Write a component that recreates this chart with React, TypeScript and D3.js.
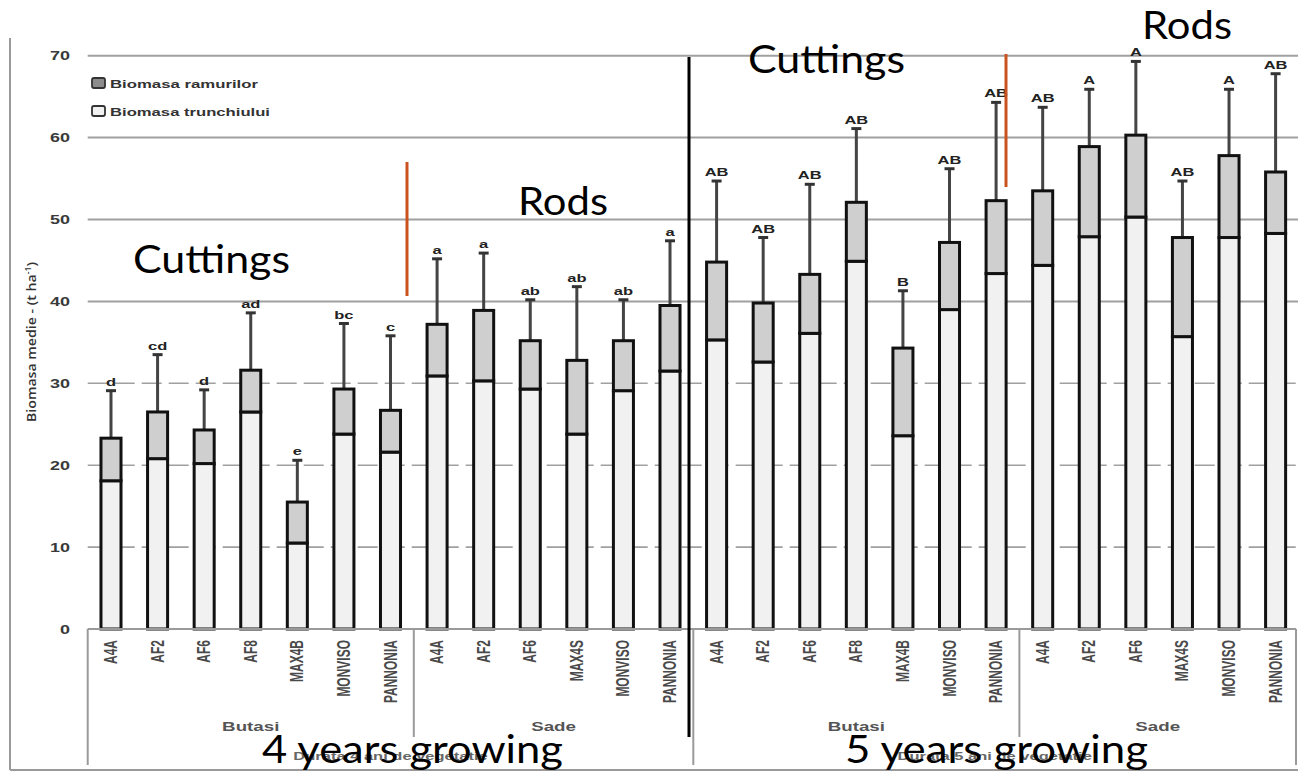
import React from "react";
import * as d3 from "d3";

// Cultivars in plotting order: 4-year stand (cuttings, rods), then 5-year stand (cuttings, rods)
const cultivars = [
  "A4A", "AF2", "AF6", "AF8", "MAX4B", "MONVISO", "PANNONIA",
  "A4A", "AF2", "AF6", "MAX4S", "MONVISO", "PANNONIA",
  "A4A", "AF2", "AF6", "AF8", "MAX4B", "MONVISO", "PANNONIA",
  "A4A", "AF2", "AF6", "MAX4S", "MONVISO", "PANNONIA",
];

// Stem biomass (t/ha) – lower segment
const trunkBiomass = [
  18.1, 20.8, 20.2, 26.5, 10.5, 23.8, 21.6,
  30.9, 30.3, 29.3, 23.8, 29.1, 31.5,
  35.3, 32.6, 36.1, 44.9, 23.6, 39.0, 43.4,
  44.4, 47.9, 50.3, 35.7, 47.8, 48.3,
];

// Branch biomass (t/ha) – upper segment
const branchBiomass = [
  5.2, 5.7, 4.1, 5.1, 5.0, 5.5, 5.1,
  6.3, 8.6, 5.9, 9.0, 6.1, 8.0,
  9.5, 7.2, 7.2, 7.2, 10.7, 8.2, 8.9,
  9.1, 11.0, 10.0, 12.1, 10.0, 7.5,
];

// Upper error (standard deviation) on total biomass
const errorUp = [
  5.8, 7.0, 4.9, 7.0, 5.1, 8.0, 9.1,
  8.0, 7.0, 5.0, 9.0, 5.0, 7.9,
  9.9, 8.0, 11.0, 9.0, 7.0, 9.0, 12.0,
  10.2, 7.0, 9.0, 6.9, 8.1, 12.0,
];

// Significance letters
const signifLetters = [
  "d", "cd", "d", "ad", "e", "bc", "c",
  "a", "a", "ab", "ab", "ab", "a",
  "AB", "AB", "AB", "AB", "B", "AB", "AB",
  "AB", "A", "A", "AB", "A", "AB",
];

const materialLabels = ["Butasi", "Sade", "Butasi", "Sade"];
const materialSizes = [7, 6, 7, 6];
const durationLabels = ["Durata 4 ani de vegetatie", "Durata 5 ani de vegetatie"];
const durationSizes = [13, 13];

const yTicks = [0, 10, 20, 30, 40, 50, 60, 70];
const legendLabels = ["Biomasa ramurilor", "Biomasa trunchiului"];

const W = 1298;
const H = 773;
const SANS = "'Liberation Sans', Arial, sans-serif";
const ANNOT = "Lato, 'Open Sans', sans-serif";
const STRETCH = 1.5;

export default function App() {
  const idx = d3.range(cultivars.length);
  const x = d3
    .scaleBand<number>()
    .domain(idx)
    .range([87.7, 1298.9])
    .paddingInner(0.57)
    .paddingOuter(0.285);
  const y = d3.scaleLinear().domain([0, 70]).range([629, 55.7]);
  const step = x.step();
  const bw = x.bandwidth();
  const left = x.range()[0];
  const right = 1296;
  const y0 = y(0);

  // group boundary positions (in band units)
  const matEdges = d3.cumsum(materialSizes);
  const durEdges = d3.cumsum(durationSizes);
  const boundaryX = (k: number) =>
    k >= cultivars.length ? right : x(k)! - (step - bw) / 2;

  const stretchText = (
    tx: number,
    ty: number,
    content: React.ReactNode,
    props: Record<string, any>
  ) => (
    <text transform={`translate(${tx},${ty}) scale(${STRETCH},1)`} {...props}>
      {content}
    </text>
  );

  return (
    <svg
      width={W}
      height={H}
      style={{ position: "absolute", left: 0, top: 0, background: "#fff" }}
    >
      {/* outer frame pieces */}
      <line x1={10} x2={10} y1={38} y2={770} stroke="#9a9a9a" strokeWidth={2} />
      <line x1={10} x2={W} y1={770} y2={770} stroke="#9a9a9a" strokeWidth={2} />

      {/* gridlines */}
      {yTicks.map((t) =>
        t === 0 ? null : (
          <line
            key={t}
            x1={left}
            x2={W}
            y1={y(t)}
            y2={y(t)}
            stroke="#a0a0a0"
            strokeWidth={t >= 40 ? 2 : 1.6}
            strokeDasharray={t >= 40 ? undefined : "20 7"}
          />
        )
      )}

      {/* y tick labels */}
      {yTicks.map((t) =>
        stretchText(70, y(t) + 4.5, String(t), {
          key: "t" + t,
          textAnchor: "end",
          fontFamily: SANS,
          fontWeight: 700,
          fontSize: 12,
          fill: "#3a3a3a",
        })
      )}

      {/* y axis title */}
      <text
        transform={`translate(36,342) rotate(-90)`}
        textAnchor="middle"
        fontFamily="'Open Sans', sans-serif"
        fontWeight={600}
        fontSize={13}
        fill="#333"
        textLength={160}
        lengthAdjust="spacingAndGlyphs"
      >
        Biomasa medie - (t ha
        <tspan dy={-5} fontSize={8}>-1</tspan>
        <tspan dy={5}>)</tspan>
      </text>

      {/* stacked bars */}
      {idx.map((i) => {
        const bx = x(i)!;
        const total = trunkBiomass[i] + branchBiomass[i];
        const cx = bx + bw / 2;
        const errTop = y(total + errorUp[i]);
        return (
          <g key={i}>
            <line x1={cx} x2={cx} y1={y(total)} y2={errTop} stroke="#444" strokeWidth={3} />
            <line x1={cx - 5} x2={cx + 5} y1={errTop} y2={errTop} stroke="#333" strokeWidth={3} />
            <rect
              x={bx}
              y={y(trunkBiomass[i])}
              width={bw}
              height={y0 - y(trunkBiomass[i])}
              fill="#f1f1f1"
              stroke="#111"
              strokeWidth={3}
            />
            <rect
              x={bx}
              y={y(total)}
              width={bw}
              height={y(trunkBiomass[i]) - y(total)}
              fill="#cfcfcf"
              stroke="#111"
              strokeWidth={3}
            />
            {stretchText(cx, errTop - 5, signifLetters[i], {
              textAnchor: "middle",
              fontFamily: SANS,
              fontWeight: 700,
              fontSize: 11,
              fill: "#222",
            })}
          </g>
        );
      })}

      {/* category box */}
      <line x1={left} x2={right} y1={y0} y2={y0} stroke="#9a9a9a" strokeWidth={2} />
      {[0, ...matEdges].map((k) => {
        const isOuter = k === 0 || durEdges.includes(k);
        const bxp = boundaryX(k);
        return (
          <line
            key={"m" + k}
            x1={bxp}
            x2={bxp}
            y1={y0}
            y2={isOuter ? 765 : 737}
            stroke="#9a9a9a"
            strokeWidth={2}
          />
        );
      })}

      {/* cultivar labels */}
      {idx.map((i) => (
        <text
          key={"c" + i}
          transform={`translate(${x(i)! + bw / 2 + 6},640) scale(${STRETCH},1) rotate(-90)`}
          textAnchor="end"
          fontFamily={SANS}
          fontWeight={700}
          fontSize={12}
          fill="#4a4a4a"
        >
          {cultivars[i]}
        </text>
      ))}

      {/* material labels */}
      {materialLabels.map((lab, g) => {
        const start = g === 0 ? 0 : matEdges[g - 1];
        const end = matEdges[g];
        const cx = (boundaryX(start) + boundaryX(end)) / 2;
        return stretchText(cx, 731, lab, {
          key: "g" + g,
          textAnchor: "middle",
          fontFamily: SANS,
          fontWeight: 700,
          fontSize: 12.5,
          fill: "#555",
        });
      })}

      {/* duration labels */}
      {durationLabels.map((lab, g) => {
        const start = g === 0 ? 0 : durEdges[g - 1];
        const end = durEdges[g];
        const cx = (boundaryX(start) + boundaryX(end)) / 2;
        return stretchText(cx, 760, lab, {
          key: "d" + g,
          textAnchor: "middle",
          fontFamily: SANS,
          fontWeight: 700,
          fontSize: 11,
          fill: "#666",
        });
      })}

      {/* legend */}
      {legendLabels.map((lab, k) => (
        <g key={"l" + k}>
          <rect
            x={92}
            y={78 + k * 28}
            width={13}
            height={10}
            rx={2}
            fill={k === 0 ? "#8c8c8c" : "#f1f1f1"}
            stroke="#333"
            strokeWidth={1.8}
          />
          <text
            x={110}
            y={87.5 + k * 28}
            fontFamily={SANS}
            fontWeight={700}
            fontSize={11.5}
            fill="#333"
            textLength={k === 0 ? 148 : 160}
            lengthAdjust="spacingAndGlyphs"
          >
            {lab}
          </text>
        </g>
      ))}

      {/* annotations */}
      <line x1={407} x2={407} y1={162} y2={296} stroke="#c9521f" strokeWidth={3} />
      <line x1={1006} x2={1006} y1={54} y2={187} stroke="#c9521f" strokeWidth={3} />
      <line x1={689} x2={689} y1={57} y2={737} stroke="#000" strokeWidth={3} />

      <text x={133} y={273} fontFamily={ANNOT} fontSize={39} fill="#000" textLength={157} lengthAdjust="spacingAndGlyphs">Cuttings</text>
      <text x={518} y={215} fontFamily={ANNOT} fontSize={39} fill="#000" textLength={90} lengthAdjust="spacingAndGlyphs">Rods</text>
      <text x={748} y={73} fontFamily={ANNOT} fontSize={39} fill="#000" textLength={157} lengthAdjust="spacingAndGlyphs">Cuttings</text>
      <text x={1142} y={39} fontFamily={ANNOT} fontSize={39} fill="#000" textLength={90} lengthAdjust="spacingAndGlyphs">Rods</text>
      <text x={262} y={763} fontFamily={ANNOT} fontSize={39} fill="#000" textLength={301} lengthAdjust="spacingAndGlyphs">4 years growing</text>
      <text x={845} y={763} fontFamily={ANNOT} fontSize={39} fill="#000" textLength={303} lengthAdjust="spacingAndGlyphs">5 years growing</text>
    </svg>
  );
}
